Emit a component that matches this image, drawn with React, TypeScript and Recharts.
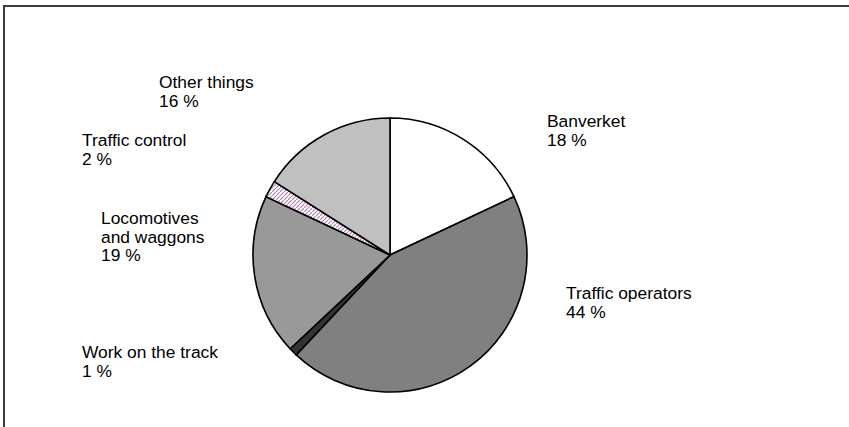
import { PieChart, Pie, Cell } from "recharts";

// shares of delay causes, clockwise from 12 o'clock
const categories = [
  "Banverket",
  "Traffic operators",
  "Work on the track",
  "Locomotives and waggons",
  "Traffic control",
  "Other things"
];
const shares = [18, 44, 1, 19, 2, 16];
const labelLines = [
  ["Banverket"],
  ["Traffic operators"],
  ["Work on the track"],
  ["Locomotives", "and waggons"],
  ["Traffic control"],
  ["Other things"]
];

const fills = ["#ffffff", "#808080", "#333333", "#999999", "url(#tc-hatch)", "#c0c0c0"];

// where each label's first baseline sits, relative to the pie centre
const labelOffsets = [
  { dx: 157, dy: -128 },
  { dx: 176, dy: 44 },
  { dx: -308, dy: 103 },
  { dx: -289, dy: -31 },
  { dx: -308, dy: -109 },
  { dx: -231, dy: -167 }
];

const data = categories.map((name, i) => ({ name, value: shares[i] }));

function renderLabel(props: any) {
  const { cx, cy, index } = props;
  const off = labelOffsets[index];
  const lines = [...labelLines[index], `${shares[index]} %`];
  return (
    <text
      key={`lbl-${index}`}
      x={cx + off.dx}
      y={cy + off.dy}
      fill="#000"
      fontSize={17.4}
      fontFamily="'Liberation Sans', Arial, sans-serif"
      textAnchor="start"
    >
      {lines.map((t, j) => (
        <tspan key={j} x={cx + off.dx} dy={j === 0 ? 0 : 18.7}>
          {t}
        </tspan>
      ))}
    </text>
  );
}

export default function App() {
  return (
    <div style={{ position: "absolute", left: 0, top: 0, width: 849, height: 427, background: "#fff" }}>
      <svg width={0} height={0} style={{ position: "absolute" }}>
        <defs>
          <pattern id="tc-hatch" width={4} height={4} patternUnits="userSpaceOnUse">
            <rect width={4} height={4} fill="#ffffff" />
            <path d="M0,4 L4,0" stroke="#b482b4" strokeWidth={1.2} />
          </pattern>
        </defs>
      </svg>
      <div
        style={{
          position: "absolute",
          left: 3,
          top: 5,
          width: 846,
          height: 422,
          borderTop: "2px solid #3c3c3c",
          borderLeft: "2px solid #3c3c3c",
          boxSizing: "border-box"
        }}
      />
      <PieChart
        width={849}
        height={427}
        margin={{ top: 0, right: 0, bottom: 0, left: 0 }}
        style={{ position: "absolute", left: 0, top: 0 }}
      >
        <Pie
          data={data}
          dataKey="value"
          nameKey="name"
          cx={390}
          cy={255}
          outerRadius={137}
          startAngle={90}
          endAngle={-270}
          stroke="#000"
          strokeWidth={1.6}
          label={renderLabel}
          labelLine={false}
          isAnimationActive={false}
        >
          {data.map((d, i) => (
            <Cell key={d.name} fill={fills[i]} />
          ))}
        </Pie>
      </PieChart>
    </div>
  );
}
